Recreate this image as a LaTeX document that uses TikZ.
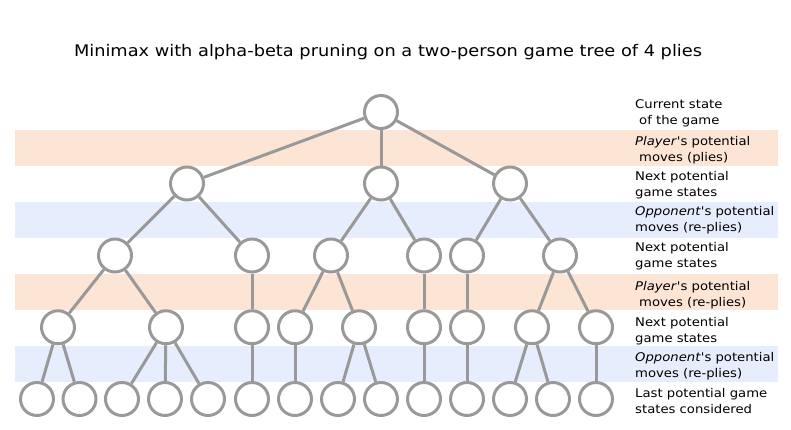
\documentclass[tikz,border=0pt]{standalone}
\usepackage{fontspec}
\setmainfont{DejaVu Sans}
\newfontfamily\lblfont[FakeStretch=1.1]{DejaVu Sans}
\newfontfamily\ttlfont[FakeStretch=1.11]{DejaVu Sans}
\definecolor{bandorange}{RGB}{253,229,213}
\definecolor{bandblue}{RGB}{230,238,253}
\definecolor{treegray}{RGB}{153,153,153}
\begin{document}
\begin{tikzpicture}[x=1pt,y=-1pt,
  state/.style={circle,draw=treegray,fill=white,line width=3pt,minimum size=33pt,inner sep=0pt},
  edge/.style={draw=treegray,line width=3pt},
  lbl/.style={anchor=west,align=left,font=\lblfont\fontsize{12pt}{16pt}\selectfont,inner sep=0pt}]
\useasboundingbox (0,0) rectangle (791,429);
% bands
\fill[bandorange] (15,130) rectangle (778,166);
\fill[bandblue] (15,202) rectangle (778,238);
\fill[bandorange] (15,274) rectangle (778,310);
\fill[bandblue] (15,346) rectangle (778,382);
% title
\node[font=\ttlfont\fontsize{16pt}{19pt}\selectfont,inner sep=0pt] (title) at (388,52) {Minimax with alpha-beta pruning on a two-person game tree of 4 plies};
% labels
\node[lbl] (l1) at (635,113.5) {Current state\\\hspace*{4pt}of the game};
\node[lbl] (l2) at (635,150.5) {\textit{Player}'s potential\\\hspace*{4pt}moves (plies)};
\node[lbl] (l3) at (635,185.5) {Next potential\\game states};
\node[lbl] (l4) at (635,220.5) {\textit{Opponent}'s potential\\moves (re-plies)};
\node[lbl] (l5) at (635,256.5) {Next potential\\game states};
\node[lbl] (l6) at (635,295) {\textit{Player}'s potential\\\hspace*{4pt}moves (re-plies)};
\node[lbl] (l7) at (635,331) {Next potential\\game states};
\node[lbl] (l8) at (635,366) {\textit{Opponent}'s potential\\moves (re-plies)};
\node[lbl] (l9) at (635,401) {Last potential game\\states considered};
% tree nodes
\node[state] (r) at (381,112) {};
\foreach \n/\x in {a1/187,a2/381,a3/510}
  \node[state] (\n) at (\x,183.5) {};
\foreach \n/\x in {b1/115,b2/252,b3/331,b4/424,b5/467,b6/560}
  \node[state] (\n) at (\x,255.5) {};
\foreach \n/\x in {c1/58,c2/166,c3/252,c4/295,c5/359,c6/424,c7/467,c8/532,c9/596}
  \node[state] (\n) at (\x,327.25) {};
\foreach \n/\x in {d1/37,d2/79.5,d3/122,d4/165,d5/208,d6/252,d7/295,d8/338,d9/381,d10/424,d11/467,d12/510,d13/553,d14/596}
  \node[state] (\n) at (\x,399) {};
% edges
\foreach \p/\c in {r/a1,r/a2,r/a3,
  a1/b1,a1/b2,a2/b3,a2/b4,a3/b5,a3/b6,
  b1/c1,b1/c2,b2/c3,b3/c4,b3/c5,b4/c6,b5/c7,b6/c8,b6/c9,
  c1/d1,c1/d2,c2/d3,c2/d4,c2/d5,c3/d6,c4/d7,c5/d8,c5/d9,c6/d10,c7/d11,c8/d12,c8/d13,c9/d14}
  \draw[edge] (\p) -- (\c);
\end{tikzpicture}
\end{document}
